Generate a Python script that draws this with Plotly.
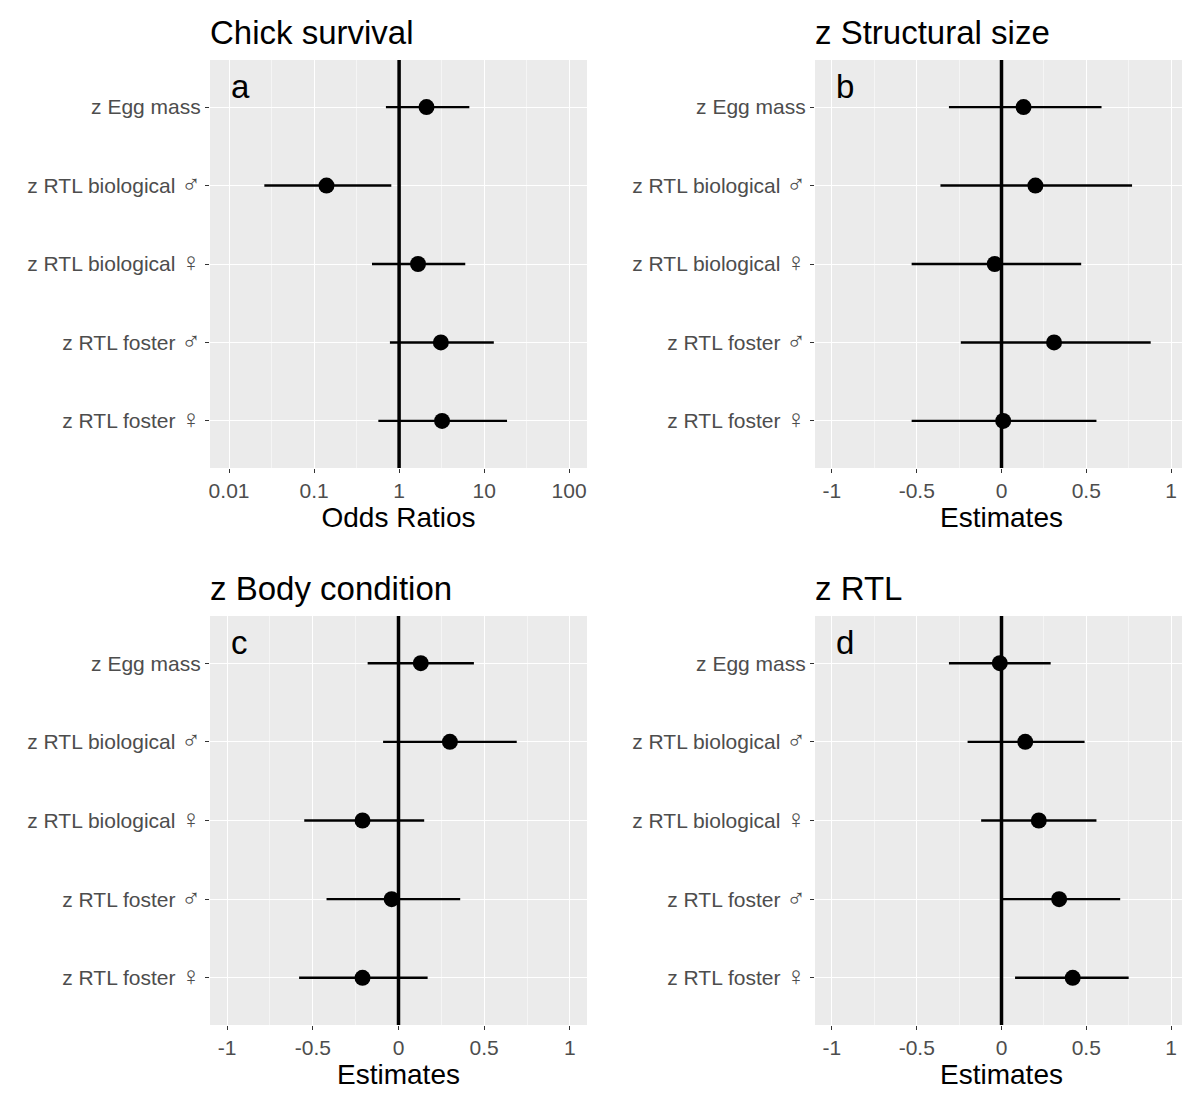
import plotly.graph_objects as go

labels = ["z Egg mass", "z RTL biological ♂", "z RTL biological ♀", "z RTL foster ♂", "z RTL foster ♀"]

# panel a: odds ratios
a_est = [2.1, 0.14, 1.67, 3.1, 3.2]
a_lo = [0.7, 0.026, 0.48, 0.78, 0.57]
a_hi = [6.7, 0.81, 6.0, 13.0, 18.6]
# panel b: structural size
b_est = [0.13, 0.20, -0.04, 0.31, 0.01]
b_lo = [-0.31, -0.36, -0.53, -0.24, -0.53]
b_hi = [0.59, 0.77, 0.47, 0.88, 0.56]
# panel c: body condition
c_est = [0.13, 0.30, -0.21, -0.04, -0.21]
c_lo = [-0.18, -0.09, -0.55, -0.42, -0.58]
c_hi = [0.44, 0.69, 0.15, 0.36, 0.17]
# panel d: RTL
d_est = [-0.01, 0.14, 0.22, 0.34, 0.42]
d_lo = [-0.31, -0.20, -0.12, 0.00, 0.08]
d_hi = [0.29, 0.49, 0.56, 0.70, 0.75]

panels = [
    ("Chick survival", "a", "Odds Ratios", a_est, a_lo, a_hi, 1),
    ("z Structural size", "b", "Estimates", b_est, b_lo, b_hi, 0),
    ("z Body condition", "c", "Estimates", c_est, c_lo, c_hi, 0),
    ("z RTL", "d", "Estimates", d_est, d_lo, d_hi, 0),
]


def big_symbol(lab):
    # the sex symbols are drawn larger in the original
    for s in ("♂", "♀"):
        if s in lab:
            return lab.replace(s, f"<span style='font-size:26px'>{s}</span>")
    return lab


ticklabels = [big_symbol(l) for l in labels]

W, H = 1190, 1095
OFF = 8  # page body margin
xdoms = [[(210 - OFF) / W, (587 - OFF) / W], [(815 - OFF) / W, (1188 - OFF) / W]]
ydoms = [[1 - (468 - OFF) / H, 1 - (60 - OFF) / H], [1 - (1025 - OFF) / H, 1 - (616 - OFF) / H]]

fig = go.Figure()
annotations = []
shapes = []
for i, (title, letter, xtitle, est, lo, hi, ref) in enumerate(panels):
    n = i + 1
    xa = "x" if n == 1 else f"x{n}"
    ya = "y" if n == 1 else f"y{n}"
    col, row = i % 2, i // 2
    for j, lab in enumerate(labels):
        fig.add_trace(go.Scatter(x=[lo[j], hi[j]], y=[lab, lab], mode="lines",
                                 line=dict(color="black", width=2.4), xaxis=xa, yaxis=ya,
                                 showlegend=False, hoverinfo="skip"))
    fig.add_trace(go.Scatter(x=est, y=labels, mode="markers",
                             marker=dict(color="black", size=16), xaxis=xa, yaxis=ya,
                             showlegend=False))
    shapes.append(dict(type="line", xref=xa, yref=f"{ya} domain", x0=ref, x1=ref, y0=0, y1=1,
                       line=dict(color="black", width=3.5), layer="above"))
    xkw = dict(domain=xdoms[col], anchor=ya, showline=False, zeroline=False, automargin=False,
               gridcolor="white", gridwidth=1.3, ticks="outside", ticklen=4, tickcolor="#333",
               tickfont=dict(size=21, color="#4d4d4d"),
               title=dict(text=xtitle, font=dict(size=28, color="black"), standoff=4))
    if n == 1:
        xkw.update(type="log", range=[-2.224, 2.21],
                   tickvals=[0.01, 0.1, 1, 10, 100], ticktext=["0.01", "0.1", "1", "10", "100"],
                   minor=dict(tickvals=[10 ** -1.5, 10 ** -0.5, 10 ** 0.5, 10 ** 1.5],
                              showgrid=True, gridcolor="#f5f5f5", gridwidth=0.8, ticks=""))
    else:
        xkw.update(range=[-1.1, 1.1], tickvals=[-1, -0.5, 0, 0.5, 1],
                   ticktext=["-1", "-0.5", "0", "0.5", "1"],
                   minor=dict(tickvals=[-0.75, -0.25, 0.25, 0.75], showgrid=True,
                              gridcolor="#f5f5f5", gridwidth=0.8, ticks=""))
    ykw = dict(domain=ydoms[row], anchor=xa, type="category", categoryorder="array",
               categoryarray=labels, range=[4.6, -0.6], showline=False, zeroline=False,
               automargin=False, tickvals=labels, ticktext=ticklabels,
               gridcolor="white", gridwidth=1.3, ticks="outside", ticklen=4, tickcolor="#333",
               tickfont=dict(size=21, color="#4d4d4d"))
    fig.update_layout({("xaxis" if n == 1 else f"xaxis{n}"): xkw,
                       ("yaxis" if n == 1 else f"yaxis{n}"): ykw})
    annotations.append(dict(text=title, xref="paper", yref="paper", x=xdoms[col][0] - 0.002,
                            y=ydoms[row][1] + 0.006, xanchor="left", yanchor="bottom",
                            showarrow=False, font=dict(size=33, color="black")))
    annotations.append(dict(text=letter, xref=f"{xa} domain", yref=f"{ya} domain",
                            x=0.05, y=0.985, xanchor="left", yanchor="top",
                            showarrow=False, font=dict(size=33, color="black")))
    shapes.append(dict(type="rect", xref=f"{xa} domain", yref=f"{ya} domain",
                       x0=0, x1=1, y0=0, y1=1, fillcolor="#ebebeb", line=dict(width=0),
                       layer="below"))

fig.update_layout(width=W, height=H, margin=dict(l=0, r=0, t=0, b=0),
                  paper_bgcolor="white", plot_bgcolor="rgba(0,0,0,0)",
                  font=dict(family="Liberation Sans, DejaVu Sans, Arial, sans-serif"),
                  annotations=annotations, shapes=shapes)
fig.write_html("out.html")
